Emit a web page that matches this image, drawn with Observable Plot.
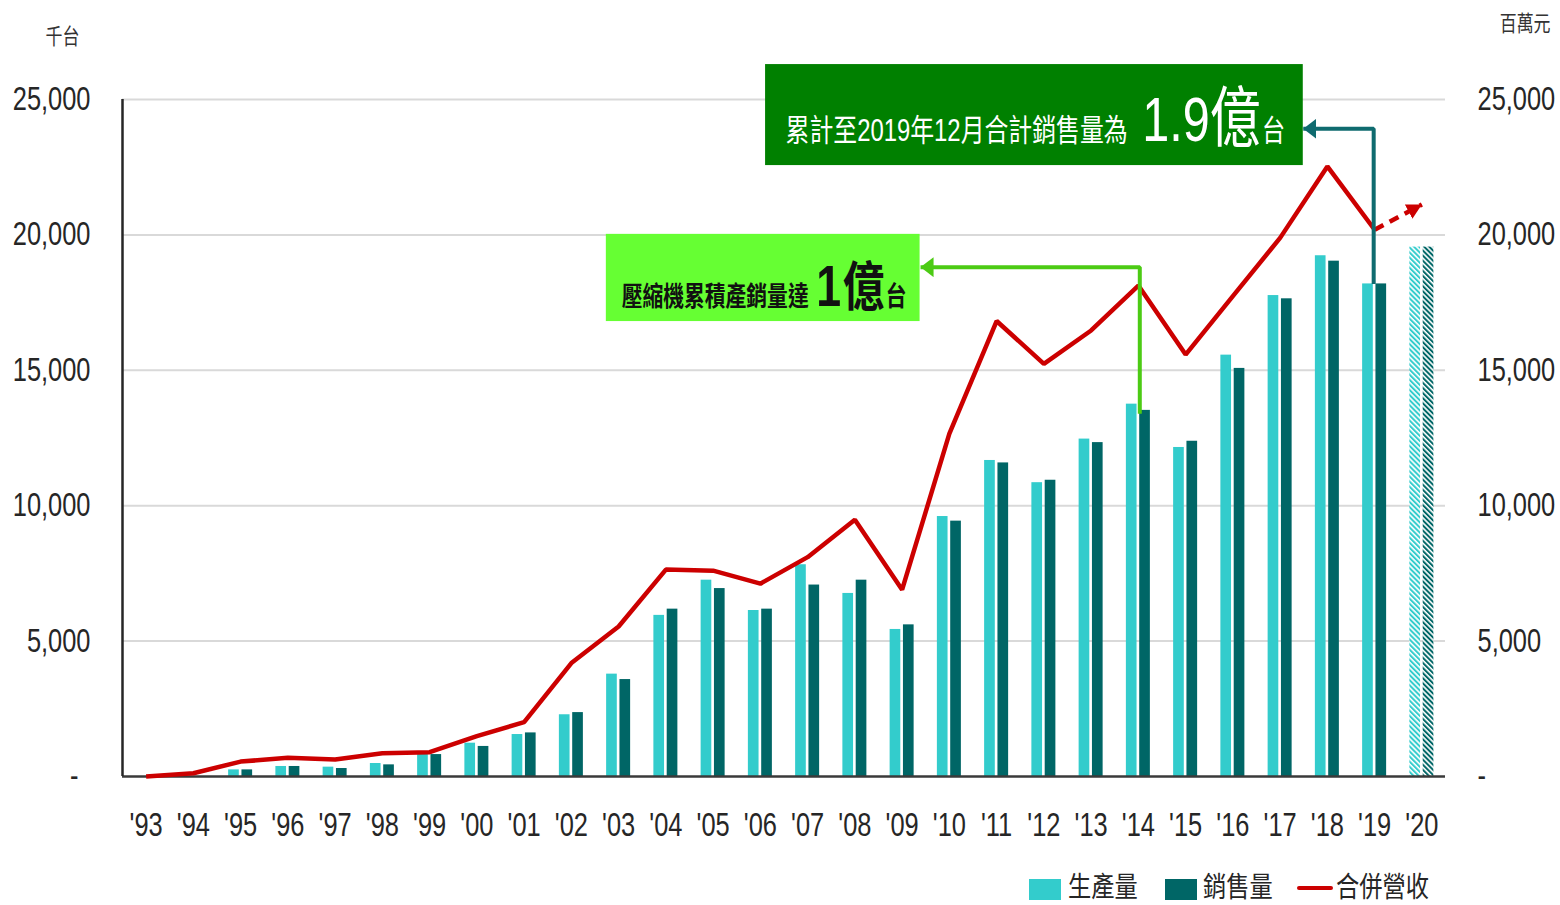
<!DOCTYPE html>
<html>
<head>
<meta charset="utf-8">
<script src="https://cdn.jsdelivr.net/npm/d3@7"></script>
<script src="https://cdn.jsdelivr.net/npm/@observablehq/plot@0.6"></script>
<style>
  html, body { margin: 0; padding: 0; background: #fff; }
  #chart svg { display: block; }
  #legend { position: relative; width: 1560px; height: 45px; font-family: 'Liberation Sans', 'Noto Sans CJK TC', sans-serif; color: #262626; }
  #legend .sw { position: absolute; }
  #legend .lab { position: absolute; font-size: 28px; line-height: 28px; white-space: nowrap; transform: scaleX(0.83); transform-origin: left center; }
</style>
</head>
<body>
<div id="chart"></div>
<div id="legend"></div>
<script>
// ---------------- data ----------------
const years = [1993,1994,1995,1996,1997,1998,1999,2000,2001,2002,2003,2004,2005,2006,2007,2008,2009,2010,2011,2012,2013,2014,2015,2016,2017,2018,2019,2020];
const xTickLabels = ["'93","'94","'95","'96","'97","'98","'99","'00","'01","'02","'03","'04","'05","'06","'07","'08","'09","'10","'11","'12","'13","'14","'15","'16","'17","'18","'19","'20"];
// 生產量 (千台)
const production = [0,0,245,370,345,480,835,1230,1550,2280,3780,5950,7250,6130,7820,6760,5430,9600,11670,10850,12460,13750,12150,15560,17760,19230,18190,19550];
// 銷售量 (千台)
const sales = [0,0,245,370,295,430,810,1110,1610,2360,3580,6180,6940,6180,7070,7250,5600,9430,11580,10940,12330,13520,12380,15070,17640,19030,18190,19550];
// 合併營收 (百萬元), 1993–2019
const revenueYears = [1993,1994,1995,1996,1997,1998,1999,2000,2001,2002,2003,2004,2005,2006,2007,2008,2009,2010,2011,2012,2013,2014,2015,2016,2017,2018,2019];
const revenue = [0,120,550,690,630,860,900,1490,2010,4190,5540,7640,7600,7120,8100,9480,6900,12660,16820,15240,16470,18130,15580,17740,19890,22530,20190];
// 2020 revenue outlook (dashed arrow)
const revenueOutlook = [{x1: 2019, y1: 20190, x2: 2020, y2: 21120}];
const projectedYear = 2020;
const yTicks = [0,5000,10000,15000,20000,25000];
const leftUnit = "千台";
const rightUnit = "百萬元";
const seriesNames = ["生產量","銷售量","合併營收"];
const seriesColors = ["#33CCCC","#006666","#CC0000"];

// annotation boxes (data coordinates)
const annoBoxes = [
  {name: "total", x1: 2006.11, x2: 2017.49, y1: 22560, y2: 26290, fill: "#008000"},
  {name: "first", x1: 2002.74, x2: 2009.38, y1: 16800, y2: 20020, fill: "#66FF33"}
];
// text parts: [text, font size, gap before (px)]
const annoTexts = [
  {name: "total", x: 2011.82, y: 23450, color: "#ffffff", weight: 400,
   parts: [["累計至2019年12月合計銷售量為", 31, 0], ["1.9", 63, 19], ["億", 66, 0], ["台", 30, 2]]},
  {name: "first", x: 2006.08, y: 17390, color: "#111111", weight: 700,
   parts: [["壓縮機累積產銷量達", 27, 0], ["1", 58, 10], ["億", 54, 2], ["台", 27, 2]]}
];
// elbow arrows (data coordinates)
const arrowTotal = [{x: 2018.98, y: 18190}, {x: 2018.98, y: 23920}, {x: 2017.49, y: 23920}];
const arrowFirst = [{x: 2014.03, y: 13400}, {x: 2014.03, y: 18810}, {x: 2009.39, y: 18810}];

// ---------------- build ----------------
const bars = years.map((year, i) => ({year, production: production[i], sales: sales[i]}));
const actualBars = bars.filter(d => d.year !== projectedYear);
const projBars = bars.filter(d => d.year === projectedYear);
const revData = revenueYears.map((year, i) => ({year, revenue: revenue[i]}));

const fmt = d3.format(",");
const fmtLeft = d => d === 0 ? "-\u00a0\u2009" : fmt(d);
const fmtRight = d => d === 0 ? "-" : fmt(d);

const lightX1 = d => d.year - 0.254, lightX2 = d => d.year - 0.028;
const darkX1 = d => d.year + 0.028, darkX2 = d => d.year + 0.254;

const plot = Plot.plot({
  width: 1560,
  height: 860,
  marginLeft: 122,
  marginRight: 115,
  marginTop: 99,
  marginBottom: 84,
  x: {domain: [1992.5, 2020.5]},
  y: {domain: [0, 25000]},
  style: {fontFamily: "'Liberation Sans','Noto Sans CJK TC',sans-serif", color: "#262626", background: "#fff", overflow: "visible"},
  marks: [
    Plot.ruleY(yTicks.filter(d => d > 0), {stroke: "#D9D9D9", strokeWidth: 2}),
    // bars
    Plot.rect(actualBars, {x1: lightX1, x2: lightX2, y1: 0, y2: "production", fill: seriesColors[0]}),
    Plot.rect(actualBars, {x1: darkX1, x2: darkX2, y1: 0, y2: "sales", fill: seriesColors[1]}),
    Plot.rect(projBars, {x1: lightX1, x2: lightX2, y1: 0, y2: "production", fill: "url(#hatchLight)"}),
    Plot.rect(projBars, {x1: darkX1, x2: darkX2, y1: 0, y2: "sales", fill: "url(#hatchDark)"}),
    // axes lines
    Plot.ruleY([0], {stroke: "#3a3a3a", strokeWidth: 2.5}),
    Plot.ruleX([1992.5], {stroke: "#262626", strokeWidth: 2.5}),
    // revenue line
    Plot.line(revData, {x: "year", y: "revenue", stroke: seriesColors[2], strokeWidth: 4.5, strokeLinejoin: "miter", strokeLinecap: "butt"}),
    Plot.link(revenueOutlook, {x1: "x1", y1: "y1", x2: "x2", y2: "y2", stroke: seriesColors[2], strokeWidth: 4.5, strokeDasharray: "10,7", ariaDescription: "outlook-arrow"}),
    // annotation arrows
    Plot.line(arrowTotal, {x: "x", y: "y", stroke: "#0F6B6F", strokeWidth: 4, strokeLinejoin: "miter", strokeLinecap: "butt", ariaDescription: "arrow-total"}),
    Plot.line(arrowFirst, {x: "x", y: "y", stroke: "#4CCB14", strokeWidth: 4, strokeLinejoin: "miter", strokeLinecap: "butt", ariaDescription: "arrow-first"}),
    // annotation boxes
    ...annoBoxes.map(b => Plot.rect([b], {x1: "x1", x2: "x2", y1: "y1", y2: "y2", fill: b.fill})),
    ...annoTexts.map(t => Plot.text([t], {x: "x", y: "y", text: d => d.parts.map(p => p[0]).join(""), fill: t.color, textAnchor: "middle", fontSize: 28, ariaDescription: "anno-" + t.name})),
    // axes
    Plot.axisX({ticks: years, tickFormat: d => xTickLabels[years.indexOf(d)], tickSize: 0, tickPadding: 36, fontSize: 33, label: null}),
    Plot.axisY({anchor: "left", ticks: yTicks, tickFormat: fmtLeft, tickSize: 0, tickPadding: 32, fontSize: 33, label: null}),
    Plot.axisY({anchor: "right", ticks: yTicks, tickFormat: fmtRight, tickSize: 0, tickPadding: 32, fontSize: 33, label: null}),
    // unit labels
    Plot.text([leftUnit], {frameAnchor: "top-left", dx: -60, dy: -71, textAnchor: "middle", fontSize: 22, fill: "#333"}),
    Plot.text([rightUnit], {frameAnchor: "top-right", dx: 105, dy: -84, textAnchor: "end", fontSize: 22, fill: "#333"})
  ]
});

// ---------- post-processing: patterns, arrowheads, rich text, condensed glyphs ----------
const NS = "http://www.w3.org/2000/svg";
const svg = plot;
const defs = document.createElementNS(NS, "defs");
defs.innerHTML = `
  <pattern id="hatchLight" patternUnits="userSpaceOnUse" width="3.6" height="3.6" patternTransform="rotate(-45)">
    <rect width="3.6" height="3.6" fill="#ffffff"/><rect width="2" height="3.6" fill="${seriesColors[0]}"/>
  </pattern>
  <pattern id="hatchDark" patternUnits="userSpaceOnUse" width="3.6" height="3.6" patternTransform="rotate(-45)">
    <rect width="3.6" height="3.6" fill="#ffffff"/><rect width="2" height="3.6" fill="${seriesColors[1]}"/>
  </pattern>
  <marker id="headTeal" viewBox="0 0 13 20" refX="13" refY="10" markerWidth="13" markerHeight="20" markerUnits="userSpaceOnUse" orient="auto">
    <path d="M0,0L13,10L0,20Z" fill="#0F6B6F" stroke="none"/>
  </marker>
  <marker id="headGreen" viewBox="0 0 13 20" refX="13" refY="10" markerWidth="13" markerHeight="20" markerUnits="userSpaceOnUse" orient="auto">
    <path d="M0,0L13,10L0,20Z" fill="#4CCB14" stroke="none"/>
  </marker>
  <marker id="headRed" viewBox="0 0 15 16" refX="15" refY="8" markerWidth="15" markerHeight="16" markerUnits="userSpaceOnUse" orient="auto">
    <path d="M0,0L15,8L0,16Z" fill="${seriesColors[2]}" stroke="none"/>
  </marker>`;
svg.insertBefore(defs, svg.firstChild);

const markGroup = desc => svg.querySelector(`g[aria-description="${desc}"]`);
const setMarker = (desc, id) => {
  const g = markGroup(desc);
  if (!g) return;
  g.querySelectorAll("path, line").forEach(p => p.setAttribute("marker-end", `url(#${id})`));
};
setMarker("arrow-total", "headTeal");
setMarker("arrow-first", "headGreen");
setMarker("outlook-arrow", "headRed");

annoTexts.forEach(t => {
  const g = markGroup("anno-" + t.name);
  const el = g && g.querySelector("text");
  if (!el) return;
  el.removeAttribute("y");
  el.removeAttribute("dy");
  el.textContent = "";
  t.parts.forEach(([s, size, gap]) => {
    const ts = document.createElementNS(NS, "tspan");
    ts.setAttribute("font-size", size);
    ts.setAttribute("font-weight", t.weight);
    if (gap) ts.setAttribute("dx", gap);
    ts.textContent = s;
    el.appendChild(ts);
  });
});

svg.querySelectorAll("text").forEach(t => {
  const tr = t.getAttribute("transform");
  t.setAttribute("transform", (tr ? tr + " " : "") + "scale(0.77,1)");
});

document.getElementById("chart").appendChild(svg);

// ---------------- legend (HTML, below the SVG) ----------------
const legend = document.getElementById("legend");
const legendLayout = [
  {sw: {left: 1029, top: 19, width: 32, height: 21}, lab: 1068},
  {sw: {left: 1165, top: 19, width: 32, height: 21}, lab: 1203},
  {sw: {left: 1297, top: 26, width: 36, height: 4}, lab: 1336}
];
seriesNames.forEach((name, i) => {
  const L = legendLayout[i];
  const sw = document.createElement("div");
  sw.className = "sw";
  Object.assign(sw.style, {left: L.sw.left + "px", top: L.sw.top + "px", width: L.sw.width + "px", height: L.sw.height + "px", background: seriesColors[i], borderRadius: i === 2 ? "2px" : "0"});
  legend.appendChild(sw);
  const lab = document.createElement("span");
  lab.className = "lab";
  lab.textContent = name;
  Object.assign(lab.style, {left: L.lab + "px", top: "14px"});
  legend.appendChild(lab);
});
</script>
</body>
</html>
